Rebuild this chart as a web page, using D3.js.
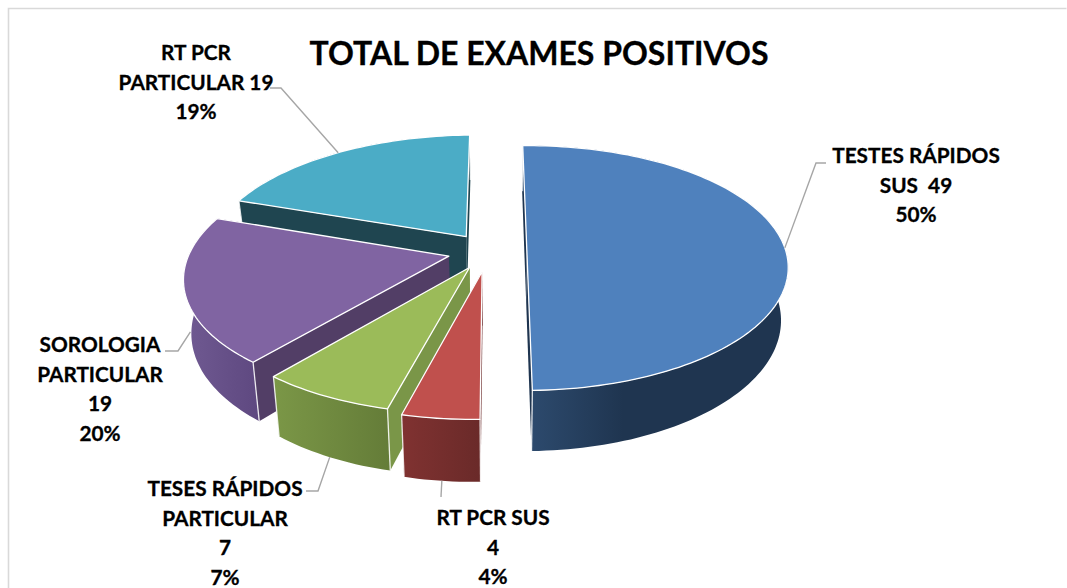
<!DOCTYPE html>
<html>
<head>
<meta charset="utf-8">
<script src="https://cdn.jsdelivr.net/npm/d3@7"></script>
<style>
  html, body { margin: 0; padding: 0; background: #fff; overflow: hidden; }
  text { font-family: Lato, "Open Sans", sans-serif; font-weight: 700; fill: #000; stroke: #000; stroke-width: 0.3px; }
</style>
</head>
<body>
<svg id="chart" width="1067" height="588"></svg>
<script>
// values
var categories = ["TESTES RÁPIDOS SUS", "RT PCR SUS", "TESES RÁPIDOS PARTICULAR", "SOROLOGIA PARTICULAR", "RT PCR PARTICULAR"];
var values = [49, 4, 7, 19, 19];
var percents = ["50%", "4%", "7%", "20%", "19%"];
var labelLines = [
    ["TESTES RÁPIDOS", "SUS  49", "50%"],
    ["RT PCR SUS", "4", "4%"],
    ["TESES RÁPIDOS", "PARTICULAR", "7", "7%"],
    ["SOROLOGIA", "PARTICULAR", "19", "20%"],
    ["RT PCR", "PARTICULAR 19", "19%"]
];

var topColors = ["#4f81bd", "#c0504d", "#9bbb59", "#8064a2", "#4bacc6"];
var faceColors = ["#1f3550", "#6b2b2a", "#7a9648", "#523e66", "#1f4550"];
var wallFrom = ["#2e4c70", "#803231", "#7b9747", "#705a92", "#1f4550"];
var wallTo = ["#1f3550", "#6a2a29", "#647c38", "#5e4880", "#1f4550"];

// projection of the tilted disc
var cx = 488, cy = 251;
var vanishX = 535;     // x the perspective shrinks towards
var radius = 259;
var tilt = 120;        // vertical radius before perspective
var persp = 1 / 7;
var depth = 52;
var taperX = 500, taper = 0.025;   // bottom face is a bit narrower
var explode = [0.15, 0.17, 0.15, 0.155, 0.15];
var startAngle = -1.3 * Math.PI / 180;

// label anchors and leader elbows, [x, y]
var labelAt = [[916, 163], [493, 525], [225, 496], [100, 352], [196, 60]];
var lineHeight = 29.6;
var elbows = [
    [[816, 163], [826, 163]],
    [[441, 497]],
    [[318, 491], [306, 491]],
    [[178, 351], [165, 351]],
    [[281, 88], [270, 88]]
];
var leaderDrop = [0, 1, 1, 0.75, 0];

var svg = d3.select("#chart");
var defs = svg.append("defs");

// frame
svg.append("path")
    .attr("d", "M8.5,588V8.5H1066.5")
    .attr("fill", "none")
    .attr("stroke", "#d9d9d9")
    .attr("stroke-width", 1.6);

var color = d3.scaleOrdinal().domain(categories).range(topColors);

var pie = d3.pie()
    .sort(null)
    .startAngle(startAngle)
    .endAngle(startAngle + 2 * Math.PI)
    .value(function (d) { return d; });

var slices = pie(values).map(function (s, i) {
    s.name = categories[i];
    s.offset = explode[i];
    s.mid = (s.startAngle + s.endAngle) / 2;
    return s;
});

// point on a slice at radius r (0..1) and angle a; down = 1 for the bottom face
function project(s, r, a, down) {
    down = down || 0;
    var X = s.offset * Math.sin(s.mid) + r * Math.sin(a);
    var V = -s.offset * Math.cos(s.mid) - r * Math.cos(a);
    var k = 1 / (1 - persp * V);
    var px = vanishX + (cx - vanishX + radius * X) * k;
    px += (taperX - px) * taper * down;
    return [px, cy + (tilt * V + depth * down) * k];
}

function arcAngles(s) {
    var n = Math.max(8, Math.ceil((s.endAngle - s.startAngle) * 40));
    return d3.range(n + 1).map(function (j) {
        return s.startAngle + (s.endAngle - s.startAngle) * j / n;
    });
}

var line = d3.line();

function topPath(s) {
    return line([project(s, 0, 0)].concat(arcAngles(s).map(function (a) {
        return project(s, 1, a);
    }))) + "Z";
}

function wallPath(s) {
    var a = arcAngles(s);
    var upper = a.map(function (t) { return project(s, 1, t, 0); });
    var lower = a.slice().reverse().map(function (t) { return project(s, 1, t, 1); });
    return line(upper.concat(lower)) + "Z";
}

function facePath(s, a) {
    return line([
        project(s, 0, 0, 0), project(s, 1, a, 0),
        project(s, 1, a, 1), project(s, 0, 0, 1)
    ]) + "Z";
}

function cornerPath(s, a) {
    return line([project(s, 1, a, 0), project(s, 1, a, 1)]);
}

slices.forEach(function (s, i) {
    var g = defs.append("linearGradient").attr("id", "wall" + i);
    g.append("stop").attr("offset", "0%").attr("stop-color", wallFrom[i]);
    g.append("stop").attr("offset", i === 0 ? "38%" : "100%").attr("stop-color", wallTo[i]);
});

// back to front, blue half last
var order = [4, 3, 2, 1, 0];

var sliceG = svg.selectAll("g.slice")
    .data(order.map(function (i) { return slices[i]; }))
    .join("g")
    .attr("class", "slice");

sliceG.each(function (s) {
    var g = d3.select(this);
    var i = s.index;
    [s.endAngle, s.startAngle].forEach(function (a) {
        g.append("path")
            .attr("d", facePath(s, a))
            .attr("fill", faceColors[i]);
    });
    g.append("path")
        .attr("d", wallPath(s))
        .attr("fill", "url(#wall" + i + ")");
    [s.endAngle, s.startAngle].forEach(function (a) {
        g.append("path")
            .attr("d", cornerPath(s, a))
            .attr("fill", "none")
            .attr("stroke", "#fff")
            .attr("stroke-opacity", 0.85)
            .attr("stroke-width", 1.3);
    });
    g.append("path")
        .attr("d", topPath(s))
        .attr("fill", color(s.name))
        .attr("stroke", "#fff")
        .attr("stroke-width", 1.3)
        .attr("stroke-linejoin", "round");
});

// leader lines
svg.selectAll("path.leader")
    .data(slices)
    .join("path")
    .attr("class", "leader")
    .attr("fill", "none")
    .attr("stroke", "#a6a6a6")
    .attr("stroke-width", 1.4)
    .attr("d", function (s, i) {
        return line([project(s, 1, s.mid, leaderDrop[i])].concat(elbows[i]));
    });

// labels
var labels = svg.selectAll("text.label")
    .data(slices)
    .join("text")
    .attr("class", "label")
    .attr("text-anchor", "middle")
    .attr("font-size", 20.8)
    .attr("transform", function (s, i) { return "translate(" + labelAt[i] + ")"; });

labels.selectAll("tspan")
    .data(function (s, i) { return labelLines[i]; })
    .join("tspan")
    .attr("x", 0)
    .attr("y", function (d, j) { return j * lineHeight; })
    .style("white-space", "pre")
    .text(function (d) { return d; });

// title
svg.append("text")
    .attr("x", 539)
    .attr("y", 65)
    .attr("text-anchor", "middle")
    .attr("font-size", 32)
    .text("TOTAL DE EXAMES POSITIVOS");
</script>
</body>
</html>
